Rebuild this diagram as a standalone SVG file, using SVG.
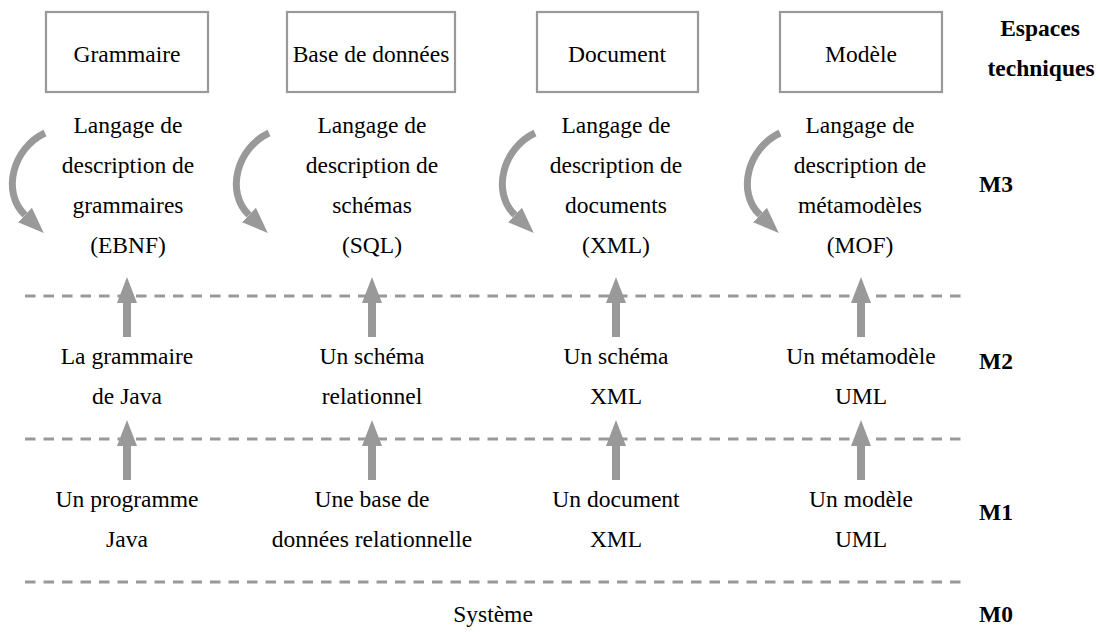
<svg xmlns="http://www.w3.org/2000/svg" width="1100" height="632" viewBox="0 0 1100 632" font-family="'Liberation Serif', 'Times New Roman', Times, 'DejaVu Serif', serif">
<style>
text{font-family:'Liberation Serif','Times New Roman',Times,'DejaVu Serif',serif;font-size:23.5px;fill:#000}
.c{text-anchor:middle}
.b{font-weight:bold}
.box{fill:#fff;stroke:#999;stroke-width:2.2}
.dash{stroke:#999;stroke-width:3;stroke-dasharray:10.5 8;fill:none}
.arr{stroke:#999;stroke-width:8;fill:none;marker-end:url(#ah)}
.curve{stroke:#999;stroke-width:7;fill:none;marker-end:url(#ah)}
</style>
<defs>
<marker id="ah" markerUnits="userSpaceOnUse" markerWidth="26" markerHeight="20" refX="0" refY="10" orient="auto" viewBox="0 0 26 20">
<path d="M0,0 L26,10 L0,20 z" fill="#999"/>
</marker>
</defs>
<rect width="1100" height="632" fill="#fff"/>

<g id="connectors">
<line class="dash" x1="25" y1="296" x2="966" y2="296"/>
<line class="dash" x1="25" y1="439" x2="966" y2="439"/>
<line class="dash" x1="25" y1="582" x2="966" y2="582"/>
<line class="arr" x1="127" y1="337" x2="127" y2="303"/>
<line class="arr" x1="372" y1="337" x2="372" y2="303"/>
<line class="arr" x1="616" y1="337" x2="616" y2="303"/>
<line class="arr" x1="861" y1="337" x2="861" y2="303"/>
<line class="arr" x1="127" y1="480" x2="127" y2="446"/>
<line class="arr" x1="372" y1="480" x2="372" y2="446"/>
<line class="arr" x1="616" y1="480" x2="616" y2="446"/>
<line class="arr" x1="861" y1="480" x2="861" y2="446"/>
<path class="curve" d="M45,133 C13,148 1,192 25,215"/>
<path class="curve" d="M269,133 C237,148 225,192 249,215"/>
<path class="curve" d="M535,133 C503,148 491,192 515,215"/>
<path class="curve" d="M780,133 C748,148 736,192 760,215"/>
</g>

<g id="box-grammaire">
<rect class="box" x="46" y="12" width="162" height="80"/>
<text class="c" x="127" y="62">Grammaire</text>
</g>
<g id="box-bdd">
<rect class="box" x="287" y="12" width="168" height="80"/>
<text class="c" x="371" y="62">Base de données</text>
</g>
<g id="box-document">
<rect class="box" x="537" y="12" width="161" height="80"/>
<text class="c" x="617" y="62">Document</text>
</g>
<g id="box-modele">
<rect class="box" x="780" y="12" width="162" height="80"/>
<text class="c" x="861" y="62">Modèle</text>
</g>

<g id="label-espaces">
<text class="c b" x="1040" y="36">Espaces</text>
<text class="c b" x="1041" y="76">techniques</text>
</g>
<g id="label-m3"><text class="b" x="979" y="192">M3</text></g>
<g id="label-m2"><text class="b" x="979" y="369">M2</text></g>
<g id="label-m1"><text class="b" x="979" y="520">M1</text></g>
<g id="label-m0"><text class="b" x="979" y="622">M0</text></g>

<g id="m3-grammaire">
<text class="c" x="128" y="133">Langage de</text>
<text class="c" x="128" y="173">description de</text>
<text class="c" x="128" y="213">grammaires</text>
<text class="c" x="128" y="253">(EBNF)</text>
</g>
<g id="m3-bdd">
<text class="c" x="372" y="133">Langage de</text>
<text class="c" x="372" y="173">description de</text>
<text class="c" x="372" y="213">schémas</text>
<text class="c" x="372" y="253">(SQL)</text>
</g>
<g id="m3-document">
<text class="c" x="616" y="133">Langage de</text>
<text class="c" x="616" y="173">description de</text>
<text class="c" x="616" y="213">documents</text>
<text class="c" x="616" y="253">(XML)</text>
</g>
<g id="m3-modele">
<text class="c" x="860" y="133">Langage de</text>
<text class="c" x="860" y="173">description de</text>
<text class="c" x="860" y="213">métamodèles</text>
<text class="c" x="860" y="253">(MOF)</text>
</g>

<g id="m2-grammaire">
<text class="c" x="127" y="364">La grammaire</text>
<text class="c" x="127" y="404">de Java</text>
</g>
<g id="m2-bdd">
<text class="c" x="372" y="364">Un schéma</text>
<text class="c" x="372" y="404">relationnel</text>
</g>
<g id="m2-document">
<text class="c" x="616" y="364">Un schéma</text>
<text class="c" x="616" y="404">XML</text>
</g>
<g id="m2-modele">
<text class="c" x="861" y="364">Un métamodèle</text>
<text class="c" x="861" y="404">UML</text>
</g>

<g id="m1-grammaire">
<text class="c" x="127" y="507">Un programme</text>
<text class="c" x="127" y="547">Java</text>
</g>
<g id="m1-bdd">
<text class="c" x="372" y="507">Une base de</text>
<text class="c" x="372" y="547">données relationnelle</text>
</g>
<g id="m1-document">
<text class="c" x="616" y="507">Un document</text>
<text class="c" x="616" y="547">XML</text>
</g>
<g id="m1-modele">
<text class="c" x="861" y="507">Un modèle</text>
<text class="c" x="861" y="547">UML</text>
</g>

<g id="m0-systeme">
<text class="c" x="493" y="622">Système</text>
</g>
</svg>
